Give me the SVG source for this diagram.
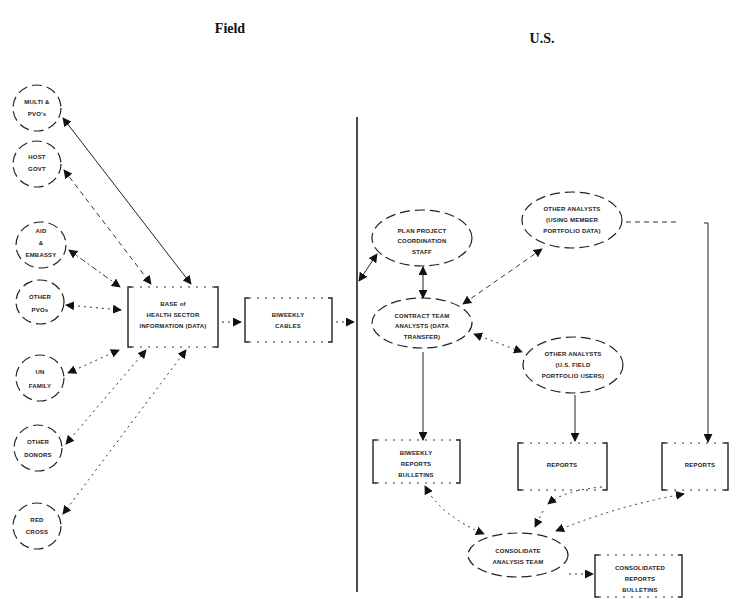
<svg xmlns="http://www.w3.org/2000/svg" width="743" height="602" viewBox="0 0 743 602">
<style>
.title{font-family:"Liberation Serif",serif;font-weight:bold;font-size:14px;fill:#111}
.t{font-family:"Liberation Sans",Arial,sans-serif;font-weight:bold;font-size:6px;fill:#222;text-anchor:middle;letter-spacing:0.2px}
.sh{fill:none;stroke:#222;stroke-width:1.2;stroke-dasharray:10 5}
.br{fill:none;stroke:#222;stroke-width:1.4}
.brd{fill:none;stroke:#333;stroke-width:1;stroke-dasharray:2 6}
.solid{fill:none;stroke:#222;stroke-width:1}
.dash{fill:none;stroke:#333;stroke-width:1;stroke-dasharray:5 4}
.dot{fill:none;stroke:#333;stroke-width:1;stroke-dasharray:2 4}
.dd{fill:none;stroke:#333;stroke-width:1;stroke-dasharray:6 3 2 3}
</style>
<defs>
<marker id="ah" viewBox="0 0 10 10" refX="9" refY="5" markerWidth="9" markerHeight="9" markerUnits="userSpaceOnUse" orient="auto-start-reverse">
<path d="M0,0 L10,5 L0,10 z" fill="#111"/>
</marker>
</defs>
<rect width="743" height="602" fill="#fff"/>
<text class="title" x="230" y="33" text-anchor="middle">Field</text>
<text class="title" x="542" y="43" text-anchor="middle">U.S.</text>
<line x1="357" y1="117" x2="357" y2="592" stroke="#111" stroke-width="1.5"/>

<g id="n-multi"><ellipse class="sh" cx="37" cy="108" rx="24" ry="23"/><text class="t" x="37" y="104">MULTI &amp;</text><text class="t" x="37" y="116">PVO's</text></g>
<g id="n-host"><ellipse class="sh" cx="37" cy="164" rx="24" ry="23"/><text class="t" x="37" y="159">HOST</text><text class="t" x="37" y="171">GOVT</text></g>
<g id="n-aid"><ellipse class="sh" cx="41" cy="245" rx="25" ry="23"/><text class="t" x="41" y="233">AID</text><text class="t" x="41" y="245">&amp;</text><text class="t" x="41" y="257">EMBASSY</text></g>
<g id="n-pvo"><ellipse class="sh" cx="40" cy="302" rx="24" ry="22"/><text class="t" x="40" y="299">OTHER</text><text class="t" x="40" y="312">PVOs</text></g>
<g id="n-un"><ellipse class="sh" cx="40" cy="378" rx="24" ry="23"/><text class="t" x="40" y="374">UN</text><text class="t" x="40" y="388">FAMILY</text></g>
<g id="n-donors"><ellipse class="sh" cx="38" cy="448" rx="24" ry="23"/><text class="t" x="38" y="444">OTHER</text><text class="t" x="38" y="457">DONORS</text></g>
<g id="n-red"><ellipse class="sh" cx="37" cy="526" rx="24" ry="23"/><text class="t" x="37" y="522">RED</text><text class="t" x="37" y="534">CROSS</text></g>

<g id="n-base"><path class="br" d="M132,287 h-4 v60 h4 M214,287 h4 v60 h-4"/><path class="brd" d="M132,287 H214 M132,347 H214"/><text class="t" x="173" y="306">BASE of</text><text class="t" x="173" y="317">HEALTH SECTOR</text><text class="t" x="173" y="328">INFORMATION (DATA)</text></g>
<g id="n-cables"><path class="br" d="M249,298 h-4 v44 h4 M328,298 h4 v44 h-4"/><path class="brd" d="M249,298 H328 M249,342 H328"/><text class="t" x="288" y="317">BIWEEKLY</text><text class="t" x="288" y="328">CABLES</text></g>

<g id="n-plan"><ellipse class="sh" cx="422" cy="238" rx="50" ry="28"/><text class="t" x="422" y="233">PLAN PROJECT</text><text class="t" x="422" y="243">COORDINATION</text><text class="t" x="422" y="254">STAFF</text></g>
<g id="n-contract"><ellipse class="sh" cx="422" cy="323" rx="50" ry="25"/><text class="t" x="422" y="318">CONTRACT TEAM</text><text class="t" x="422" y="328">ANALYSTS (DATA</text><text class="t" x="422" y="339">TRANSFER)</text></g>
<g id="n-other1"><ellipse class="sh" cx="572" cy="220" rx="50" ry="28"/><text class="t" x="572" y="211">OTHER ANALYSTS</text><text class="t" x="572" y="222">(USING MEMBER</text><text class="t" x="572" y="233">PORTFOLIO DATA)</text></g>
<g id="n-other2"><ellipse class="sh" cx="573" cy="365" rx="50" ry="28"/><text class="t" x="573" y="356">OTHER ANALYSTS</text><text class="t" x="573" y="367">(U.S. FIELD</text><text class="t" x="573" y="378">PORTFOLIO USERS)</text></g>

<g id="n-bulletins"><path class="br" d="M377,440 h-4 v43 h4 M456,440 h4 v43 h-4"/><path class="brd" d="M377,440 H456 M377,483 H456"/><text class="t" x="416" y="455">BIWEEKLY</text><text class="t" x="416" y="466">REPORTS</text><text class="t" x="416" y="477">BULLETINS</text></g>
<g id="n-reports1"><path class="br" d="M522,443 h-4 v47 h4 M603,443 h4 v47 h-4"/><path class="brd" d="M522,443 H603 M522,490 H603"/><text class="t" x="562" y="467">REPORTS</text></g>
<g id="n-reports2"><path class="br" d="M666,443 h-4 v47 h4 M724,443 h4 v47 h-4"/><path class="brd" d="M666,443 H724 M666,490 H724"/><text class="t" x="700" y="467">REPORTS</text></g>
<g id="n-team"><ellipse class="sh" cx="518" cy="555" rx="50" ry="22"/><text class="t" x="518" y="553">CONSOLIDATE</text><text class="t" x="518" y="564">ANALYSIS TEAM</text></g>
<g id="n-consol"><path class="br" d="M599,555 h-4 v42 h4 M678,555 h4 v42 h-4"/><path class="brd" d="M599,555 H678 M599,597 H678"/><text class="t" x="640" y="570">CONSOLIDATED</text><text class="t" x="640" y="581">REPORTS</text><text class="t" x="640" y="592">BULLETINS</text></g>

<g id="connectors">
<line class="solid" x1="63" y1="118" x2="191" y2="284" marker-start="url(#ah)" marker-end="url(#ah)"/>
<line class="dash" x1="64" y1="170" x2="151" y2="284" marker-start="url(#ah)" marker-end="url(#ah)"/>
<line class="dd" x1="69" y1="250" x2="120" y2="287" marker-start="url(#ah)" marker-end="url(#ah)"/>
<line class="dot" x1="66" y1="305" x2="121" y2="310" marker-start="url(#ah)" marker-end="url(#ah)"/>
<line class="dot" x1="68" y1="373" x2="119" y2="350" marker-start="url(#ah)" marker-end="url(#ah)"/>
<line class="dot" x1="66" y1="444" x2="146" y2="350" marker-start="url(#ah)" marker-end="url(#ah)"/>
<line class="dot" x1="63" y1="514" x2="186" y2="350" marker-start="url(#ah)" marker-end="url(#ah)"/>
<line class="dot" x1="222" y1="322" x2="241" y2="322" marker-end="url(#ah)"/>
<line class="dot" x1="336" y1="322" x2="354" y2="322" marker-end="url(#ah)"/>
<line class="solid" x1="359" y1="281" x2="377" y2="254" stroke-width="1.3" marker-start="url(#ah)" marker-end="url(#ah)"/>
<line class="solid" x1="423" y1="267" x2="423" y2="298" stroke-width="1.3" marker-start="url(#ah)" marker-end="url(#ah)"/>
<line class="dash" x1="542" y1="249" x2="463" y2="304" marker-start="url(#ah)" marker-end="url(#ah)"/>
<line class="dot" x1="474" y1="334" x2="522" y2="352" marker-start="url(#ah)" marker-end="url(#ah)"/>
<line class="dash" x1="626" y1="222" x2="680" y2="222"/>
<path class="solid" d="M704,223 L708,223 L708,442" stroke-width="1.4" marker-end="url(#ah)"/>
<line class="solid" x1="423" y1="352" x2="423" y2="440" stroke-width="1.2" marker-end="url(#ah)"/>
<line class="solid" x1="575" y1="395" x2="575" y2="441" stroke-width="1.2" marker-end="url(#ah)"/>
<path class="dot" d="M425,486 Q440,515 484,534" marker-start="url(#ah)" marker-end="url(#ah)"/>
<path class="dot" d="M602,487 Q565,490 548,504" marker-end="url(#ah)"/>
<line class="dot" x1="543" y1="511" x2="535" y2="527" marker-end="url(#ah)"/>
<path class="dot" d="M684,494 Q620,505 556,531" marker-start="url(#ah)" marker-end="url(#ah)"/>
<line class="dot" x1="569" y1="574" x2="593" y2="574" marker-end="url(#ah)"/>
</g>
</svg>
